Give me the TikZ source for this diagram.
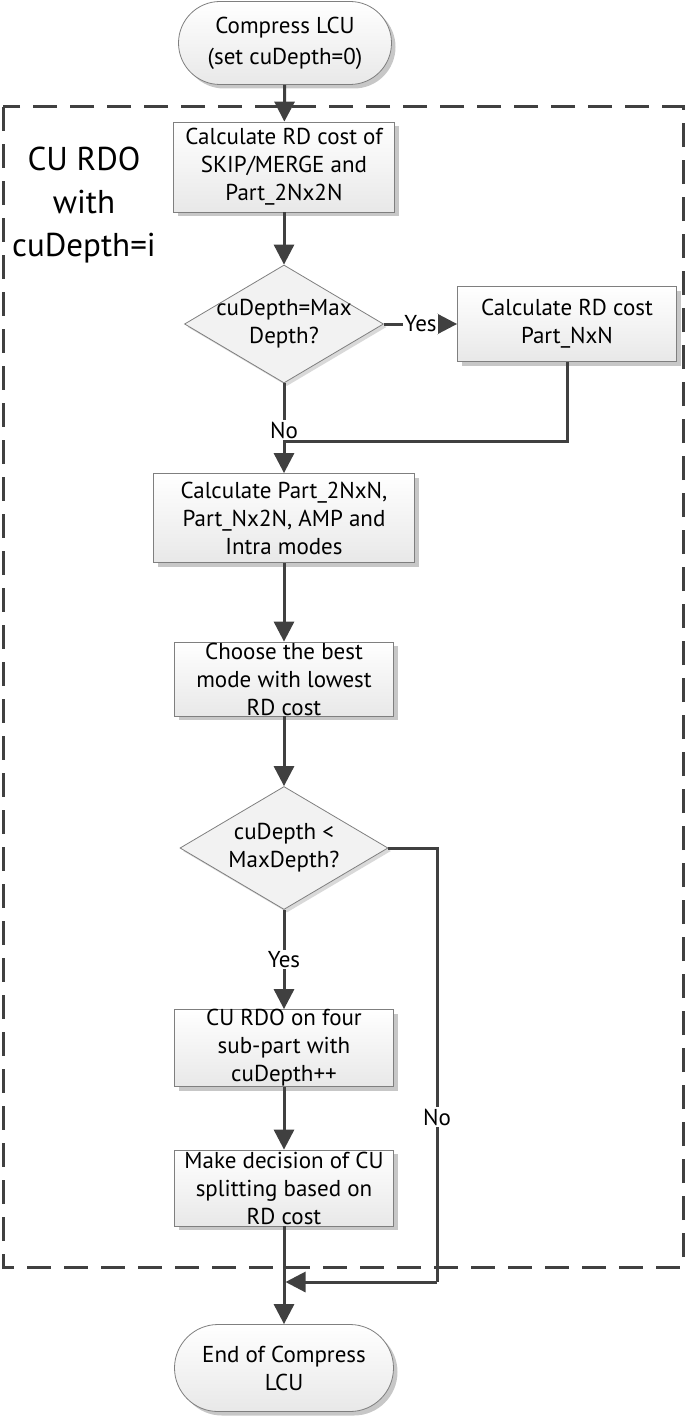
\documentclass[tikz,border=0pt]{standalone}
\usepackage{fontspec}
\setmainfont{PT Sans}
\usetikzlibrary{shapes.geometric,shapes.misc,arrows.meta,shadows}
\definecolor{ln}{HTML}{404040}
\definecolor{bd}{HTML}{7F7F7F}
\begin{document}
\begin{tikzpicture}[x=1pt,y=-1pt,
  txt/.style={font=\fontsize{23}{28}\selectfont},
  base/.style={txt, draw=bd, line width=0.8pt, top color=white, bottom color=black!9,
    drop shadow={shadow xshift=4pt,shadow yshift=-4pt,fill=black!22,opacity=1},
    align=center, inner sep=0pt},
  proc/.style={base, rectangle},
  term/.style={base, rounded rectangle},
  dec/.style={draw=bd, line width=0.8pt, fill=black!5, diamond, inner sep=0pt,
    drop shadow={shadow xshift=3pt,shadow yshift=-3pt,fill=black!15,opacity=1}},
  conn/.style={draw=ln, line width=3pt},
  arr/.style={conn, -{Triangle[length=20pt,width=20pt]}},
  lbl/.style={txt, fill=white, inner sep=1.5pt}
]
\useasboundingbox (0,0) rectangle (685,1418);
% dashed frame
\draw[ln, line width=3pt, dash pattern=on 24pt off 13pt] (3,107) rectangle (683,1267);
\node[txt, font=\fontsize{33}{43}\selectfont, align=center] (title) at (84,205) {CU RDO\\with\\cuDepth=i};

\node[term, minimum width=213pt, minimum height=83pt, font=\fontsize{23}{31}\selectfont] (start) at (285,43) {Compress LCU\\(set cuDepth=0)};
\node[proc, minimum width=221pt, minimum height=90pt] (b1) at (284,167) {Calculate RD cost of\\SKIP/MERGE and\\Part\_2Nx2N};
\node[dec, minimum width=199pt, minimum height=118pt,
  label={[txt,align=center]center:cuDepth=Max\\Depth?}] (d1) at (284,324) {};
\node[proc, minimum width=219pt, minimum height=75pt] (b2) at (567,324) {Calculate RD cost\\Part\_NxN};
\node[proc, minimum width=261pt, minimum height=89pt] (b3) at (284,518) {Calculate Part\_2NxN,\\Part\_Nx2N, AMP and\\Intra modes};
\node[proc, minimum width=219pt, minimum height=74pt] (b4) at (284,679) {Choose the best\\mode with lowest\\RD cost};
\node[dec, minimum width=208pt, minimum height=123pt,
  label={[txt,align=center]center:cuDepth <\\MaxDepth?}] (d2) at (284,848) {};
\node[proc, minimum width=219pt, minimum height=76pt] (b5) at (284,1048) {CU RDO on four\\sub-part with\\cuDepth++};
\node[proc, minimum width=219pt, minimum height=76pt] (b6) at (284,1188) {Make decision of CU\\splitting based on\\RD cost};
\node[term, minimum width=219pt, minimum height=87pt] (end) at (284,1368) {End of Compress\\LCU};

\coordinate (j1) at (284,441);
\coordinate (c2) at (437,1282);
\coordinate (j2) at (285.5,1282);

\draw[arr] (start) -- (b1);
\draw[arr] (b1) -- (d1);
\draw[arr] (d1.east) -- node[lbl] (yes1) {Yes} (b2.west);
\draw[conn] (b2.south) |- (j1);
\draw[arr] (d1.south) -- node[lbl, pos=0.52] (no1) {No} (b3.north);
\draw[arr] (b3) -- (b4);
\draw[arr] (b4) -- (d2);
\draw[arr] (d2.south) -- node[lbl] (yes2) {Yes} (b5.north);
\draw[arr] (b5) -- (b6);
\draw[conn] (d2.east) -| (c2);
\node[lbl] (no2) at (437,1117) {No};
\draw[arr] (c2) -- (j2);
\draw[arr] (b6) -- (end);
\end{tikzpicture}
\end{document}
